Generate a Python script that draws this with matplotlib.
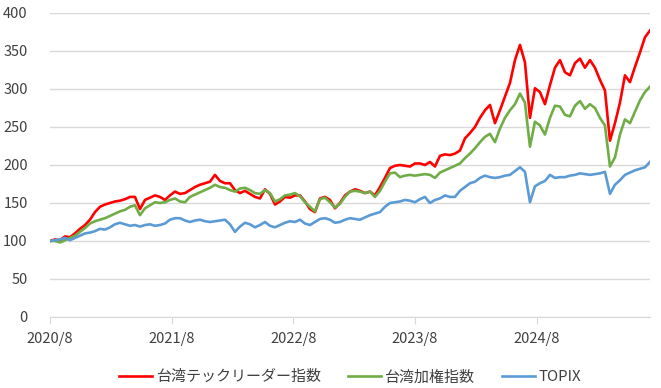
"""
台湾テックリーダー指数 / 台湾加権指数 / TOPIX comparison
"""

import matplotlib
matplotlib.use("Agg")
import matplotlib.pyplot as plt
import pandas as pd

plt.rcParams["font.family"] = ["Noto Sans CJK JP", "DejaVu Sans"]

# sample dates, roughly every 15 days from 2020/8/31
dates = pd.date_range("2020-08-31", periods=121, freq="15D")

tech = [
    100, 102, 101, 106, 105, 110, 116, 121, 128, 138,
    145, 148, 150, 152, 153, 155, 158, 158, 142, 154,
    157, 160, 158, 154, 160, 165, 162, 163, 167, 171,
    174, 176, 178, 187, 179, 176, 176, 167, 163, 166,
    162, 158, 156, 168, 162, 148, 152, 158, 157, 160,
    160, 152, 142, 138, 156, 158, 154, 143, 150, 160,
    165, 168, 166, 163, 165, 160, 171, 183, 196, 199,
    200, 199, 198, 202, 202, 200, 204, 198, 212, 214,
    213, 215, 219, 235, 242, 250, 262, 272, 279, 255,
    272, 290, 308, 338, 358, 335, 262, 301, 296, 280,
    305, 328, 338, 322, 318, 334, 340, 328, 338, 328,
    312, 298, 232, 255, 282, 318, 309, 329, 348, 368,
    377,
]

taiex = [
    100, 100, 98, 101, 104, 107, 112, 117, 123, 126,
    128, 130, 133, 136, 139, 141, 145, 147, 134, 143,
    147, 151, 150, 151, 154, 156, 152, 151, 158, 161,
    164, 167, 170, 174, 171, 170, 167, 165, 169, 170,
    167, 163, 162, 167, 163, 152, 155, 160, 161, 163,
    159, 151, 145, 139, 155, 157, 151, 144, 149, 158,
    165, 166, 165, 163, 165, 158, 166, 178, 189, 190,
    184, 186, 187, 186, 187, 188, 187, 183, 190, 193,
    196, 199, 202, 209, 215, 222, 230, 237, 241, 230,
    248, 262, 272, 280, 294, 282, 224, 257, 252, 240,
    262, 278, 277, 266, 264, 278, 284, 274, 280, 275,
    262, 252, 198, 210, 240, 260, 255, 270, 285, 296,
    303,
]

topix = [
    100, 101, 102, 104, 101, 104, 107, 110, 111, 113,
    116, 115, 118, 122, 124, 122, 120, 121, 119, 121,
    122, 120, 121, 123, 128, 130, 130, 127, 125, 127,
    128, 126, 125, 126, 127, 128, 122, 112, 119, 124,
    122, 118, 121, 125, 120, 118, 121, 124, 126, 125,
    128, 123, 121, 125, 129, 130, 128, 124, 125, 128,
    130, 129, 128, 131, 134, 136, 138, 145, 150, 151,
    152, 154, 153, 151, 155, 158, 150, 154, 156, 160,
    158, 158, 166, 171, 176, 178, 183, 186, 184, 183,
    184, 186, 187, 192, 197, 191, 151, 172, 176, 179,
    187, 183, 184, 184, 186, 187, 189, 188, 187, 188,
    189, 191, 162, 174, 180, 187, 190, 193, 195, 197,
    204,
]

labels = ["台湾テックリーダー指数", "台湾加権指数", "TOPIX"]
colors = ["#FF0000", "#70AD47", "#5B9BD5"]
tick_dates = pd.to_datetime(["2020-08-31", "2021-08-31", "2022-08-31",
                             "2023-08-31", "2024-08-31"])
tick_labels = ["2020/8", "2021/8", "2022/8", "2023/8", "2024/8"]

fig = plt.figure(figsize=(6.61, 3.88), dpi=100)
ax = fig.add_axes([0.0756, 0.183, 0.9077, 0.7835])

for series, label, color in zip([tech, taiex, topix], labels, colors):
    ax.plot(dates, series, color=color, linewidth=1.9, label=label)

ax.set_ylim(0, 400)
ax.set_yticks(range(0, 401, 50))
ax.set_xlim(dates[0], dates[-1])
ax.set_xticks(tick_dates)
ax.set_xticklabels(tick_labels)

ax.grid(axis="y", color="#d9d9d9", linewidth=1)
ax.set_axisbelow(True)
for side in ["top", "right", "left"]:
    ax.spines[side].set_visible(False)
ax.spines["bottom"].set_color("#d9d9d9")
ax.tick_params(axis="y", length=0, pad=16, labelsize=10.5, labelcolor="#404040")
ax.tick_params(axis="x", length=5, color="#d9d9d9", pad=6, labelsize=10.5,
               labelcolor="#404040")

ax.legend(loc="upper center", bbox_to_anchor=(0.5, -0.13), ncol=3,
          frameon=False, fontsize=10.8, handlelength=2.2, columnspacing=1.8,
          handletextpad=0.25, labelcolor="#404040")

fig.savefig("out.png", dpi=100)
